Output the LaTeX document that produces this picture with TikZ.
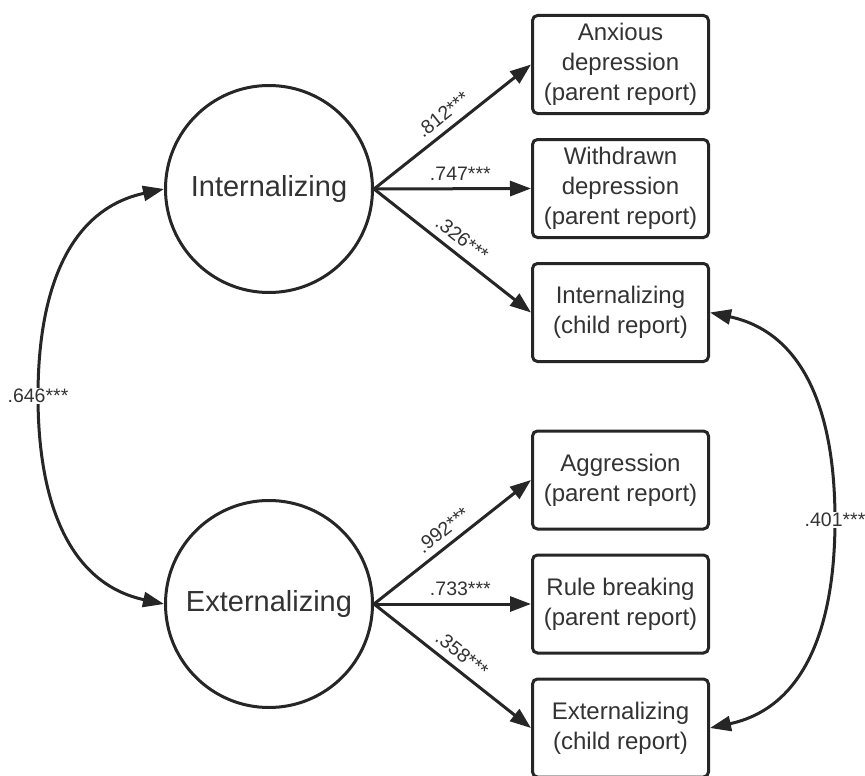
\documentclass[tikz,border=0pt]{standalone}
\usepackage{fontspec}
\setmainfont{Liberation Sans}
\usetikzlibrary{arrows.meta}
\definecolor{ln}{HTML}{262626}
\definecolor{tx}{HTML}{333333}
\begin{document}
\begin{tikzpicture}[x=1pt,y=-1pt,
  latent/.style={circle,draw=ln,line width=3pt,minimum size=207pt,inner sep=0pt,text=tx,font=\fontsize{29}{34}\selectfont},
  obs/.style={rectangle,rounded corners=5pt,draw=ln,line width=3pt,minimum width=176pt,minimum height=98pt,inner sep=0pt,align=center,text=tx,font=\fontsize{24}{30}\selectfont},
  arr/.style={draw=ln,line width=3pt,-{Triangle[length=21pt,width=15pt]}},
  darr/.style={draw=ln,line width=3pt,{Triangle[length=21pt,width=15pt]}-{Triangle[length=21pt,width=15pt]}},
  lbl/.style={text=tx,font=\fontsize{19.5}{22}\selectfont,inner sep=2pt}]
\useasboundingbox (0,0) rectangle (865,776);
\fill[white] (0,0) rectangle (865,776);

\node[latent] (I) at (269,189) {Internalizing};
\node[latent] (E) at (269,604) {Externalizing};

\node[obs] (B1) at (620.5,64.5) {Anxious\\depression\\(parent report)};
\node[obs] (B2) at (620.5,188.5) {Withdrawn\\depression\\(parent report)};
\node[obs] (B3) at (620.5,312.5) {Internalizing\\(child report)};
\node[obs] (B4) at (620.5,480) {Aggression\\(parent report)};
\node[obs] (B5) at (620.5,604) {Rule breaking\\(parent report)};
\node[obs] (B6) at (620.5,728) {Externalizing\\(child report)};

\draw[arr] (I.east) -- node[lbl,sloped,above=5pt,pos=0.5] {.812***} (B1.west);
\draw[arr] (I.east) -- node[lbl,above=5pt,pos=0.55] {.747***} (B2.west);
\draw[arr] (I.east) -- node[lbl,sloped,above=5pt,pos=0.5] {.326***} (B3.west);

\draw[arr] (E.east) -- node[lbl,sloped,above=5pt,pos=0.5] {.992***} (B4.west);
\draw[arr] (E.east) -- node[lbl,above=5pt,pos=0.55] {.733***} (B5.west);
\draw[arr] (E.east) -- node[lbl,sloped,above=5pt,pos=0.5] {.358***} (B6.west);

\coordinate (L) at (38,396);
\coordinate (R) at (835,520);
\draw[darr] (I.west) .. controls +(-93,20) and +(0,-110) .. (L)
  .. controls +(0,110) and +(-93,-20) .. (E.west);
\draw[darr] (B3.east) .. controls +(93,20) and +(0,-110) .. (R)
  .. controls +(0,110) and +(93,-20) .. (B6.east);
\node[lbl,fill=white,inner sep=1pt] (c1) at (L) {.646***};
\node[lbl,fill=white,inner sep=1pt] (c2) at (R) {.401***};
\end{tikzpicture}
\end{document}
